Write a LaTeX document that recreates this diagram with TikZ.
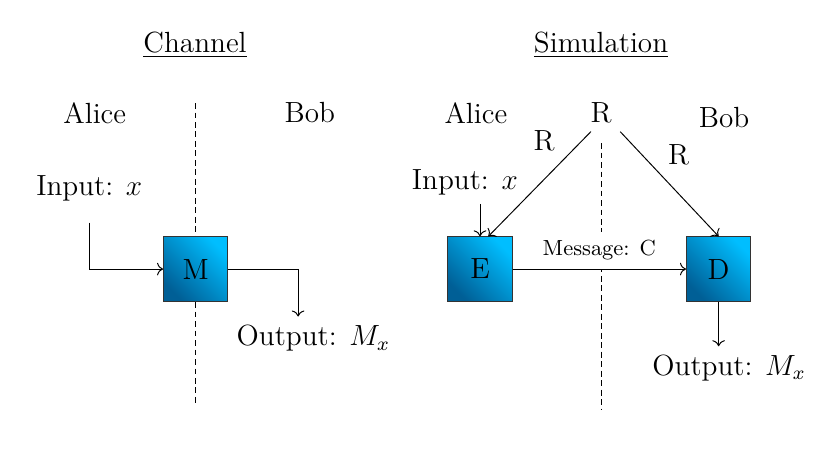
\documentclass[tikz,border=0pt]{standalone}
\usetikzlibrary{arrows.meta}
\definecolor{boxlight}{RGB}{0,190,255}
\definecolor{boxdark}{RGB}{0,95,150}

\begin{document}
\begin{tikzpicture}[>=To,font=\large,
  blk/.style={draw=black!80,minimum size=.93cm,top color=boxlight,bottom color=boxdark,shading angle=-45},
  sep/.style={dash pattern=on 2.4pt off 1.5pt}]
  \useasboundingbox (0,0) rectangle (12,6.75);
  % dashed lines between the parties
  \coordinate (ltop) at (2.82,5.26);
  \coordinate (lbot) at (2.82,0.90);
  \coordinate (rtop) at (8.69,4.68);
  \coordinate (rbot) at (8.69,0.82);
  \draw[sep] (ltop) -- (lbot);
  \draw[sep] (rtop) -- (rbot);

  % channel
  \node (chan) at (2.82,6.10) {\underline{Channel}};
  \node (alice1) at (1.37,5.12) {Alice};
  \node (bob1) at (4.48,5.12) {Bob};
  \node (in1) at (1.29,4.02) {Input: $x$};
  \node[blk] (M) at (2.83,2.86) {M};
  \node (out1) at (4.53,1.86) {Output: $M_x$};
  \coordinate (in1end) at (1.30,3.53);
  \draw[->] (in1end) |- (M.west);
  \draw[->] (M.east) -| ([xshift=-.22cm]out1.north);

  % simulation
  \node (sim) at (8.69,6.10) {\underline{Simulation}};
  \node (alice2) at (6.88,5.12) {Alice};
  \node (rand) at (8.69,5.12) {R};
  \node (bob2) at (10.47,5.05) {Bob};
  \node (in2) at (6.72,4.11) {Input: $x$};
  \node[blk] (E) at (6.94,2.86) {E};
  \node[blk] (D) at (10.39,2.86) {D};
  \node (out2) at (10.54,1.43) {Output: $M_x$};
  \draw[->] (E.north |- in2.south) -- (E.north);
  \draw[->] ([xshift=.13cm]rand.south west) -- ([xshift=.12cm]E.north) node[pos=.27,above left] {R};
  \draw[->] (rand.south east) -- (D.north) node[pos=.4,above right] {R};
  \draw[->] (E) -- (D) node[midway,above,font=\small,fill=white] {Message: C};
  \draw[->] (D.south) -- (D.south |- out2.north);
\end{tikzpicture}
\end{document}
